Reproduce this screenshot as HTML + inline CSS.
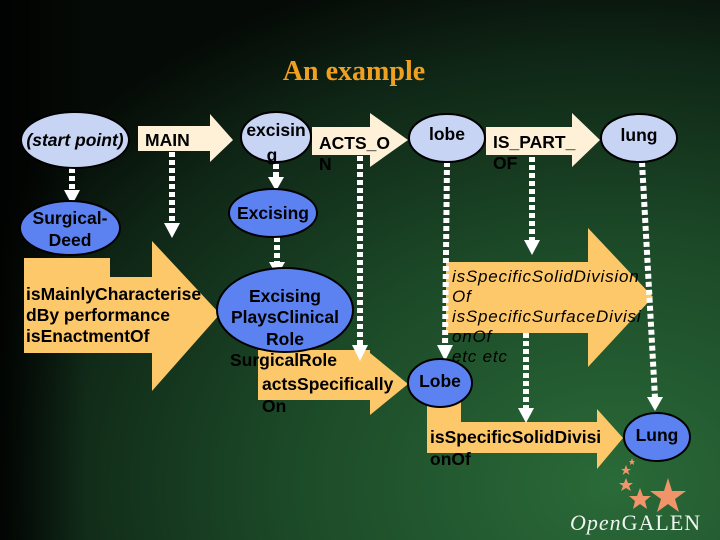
<!DOCTYPE html>
<html><head><meta charset="utf-8"><style>
html,body{margin:0;padding:0;width:720px;height:540px;overflow:hidden;background:#0a1a0e}
svg{display:block}
text{font-family:"Liberation Sans",sans-serif;font-weight:bold;fill:#000}
</style></head><body>
<svg width="720" height="540" viewBox="0 0 720 540" xmlns="http://www.w3.org/2000/svg">
<defs>
<radialGradient id="bg" cx="0.85" cy="0.9" r="1.0">
<stop offset="0" stop-color="#2a6a38"/>
<stop offset="0.45" stop-color="#1c4a28"/>
<stop offset="0.8" stop-color="#0f2616"/>
<stop offset="1" stop-color="#050a06"/>
</radialGradient>
<linearGradient id="lg" x1="0" x2="1" y1="0" y2="0">
<stop offset="0" stop-color="#000" stop-opacity="0.85"/>
<stop offset="0.12" stop-color="#000" stop-opacity="0"/>
</linearGradient>
</defs>
<rect width="720" height="540" fill="url(#bg)"/>
<rect width="720" height="540" fill="url(#lg)"/>

<text x="354" y="80" text-anchor="middle" style="font-family:'Liberation Serif',serif;font-size:28px;fill:#f0a020">An example</text>

<g fill="#fff0d8">
<polygon points="138,126 210,126 210,114 233,140 210,162 210,151 138,151"/>
<polygon points="312,127 370,127 370,113 408,140 370,167 370,155 312,155"/>
<polygon points="486,127 572,127 572,113 600,140 572,167 572,155 486,155"/>
</g>

<g fill="#fcc86a">
<polygon points="24,258 110,258 110,277 152,277 152,241 220,314 152,391 152,353 24,353"/>
<polygon points="258,350 370,350 370,353 408,384 370,415 370,400 258,400"/>
<polygon points="446,262 588,262 588,228 653,297 588,367 588,333 446,333"/>
<polygon points="427,400 461,400 461,422 597,422 597,409 623,438 597,469 597,453 427,453"/>
</g>

<g stroke="#fff" stroke-width="6" stroke-dasharray="5,3" fill="none">
<line x1="72" y1="168" x2="72" y2="191"/>
<line x1="172" y1="152" x2="172" y2="224"/>
<line x1="276" y1="164" x2="276" y2="178"/>
<line x1="277" y1="237" x2="277" y2="262"/>
<line x1="360" y1="156" x2="360" y2="346"/>
<line x1="447" y1="162" x2="445" y2="346"/>
<line x1="532" y1="157" x2="532" y2="241"/>
<line x1="642" y1="162" x2="655" y2="398"/>
<line x1="526" y1="333" x2="526" y2="409"/>
</g>
<g fill="#fff">
<polygon points="64,190 80,190 72,205"/>
<polygon points="164,223 180,223 172,238"/>
<polygon points="268,177 284,177 276,191"/>
<polygon points="269,262 285,262 277,276"/>
<polygon points="352,345 368,345 360,361"/>
<polygon points="437,345 453,345 445,361"/>
<polygon points="524,240 540,240 532,255"/>
<polygon points="647,397 663,397 655,411"/>
<polygon points="518,408 534,408 526,423"/>
</g>

<g fill="#c8d4f4" stroke="#000" stroke-width="2">
<ellipse cx="75" cy="140" rx="54" ry="28"/>
<ellipse cx="276" cy="137" rx="35" ry="25"/>
<ellipse cx="447" cy="138" rx="38" ry="24"/>
<ellipse cx="639" cy="138" rx="38" ry="24"/>
</g>
<g fill="#5b82f0" stroke="#000" stroke-width="2">
<ellipse cx="70" cy="228" rx="50" ry="27"/>
<ellipse cx="273" cy="213" rx="44" ry="24"/>
<ellipse cx="285" cy="310" rx="68" ry="42"/>
<ellipse cx="440" cy="383" rx="32" ry="24"/>
<ellipse cx="657" cy="437" rx="33" ry="24"/>
</g>

<g font-size="17.5">
<text x="75" y="146" text-anchor="middle" font-style="italic">(start point)</text>
<text x="145" y="146">MAIN</text>
<text x="276" y="136" text-anchor="middle">excisin</text>
<text x="272" y="161" text-anchor="middle">g</text>
<text x="319" y="149">ACTS_O</text>
<text x="319" y="170">N</text>
<text x="447" y="140" text-anchor="middle">lobe</text>
<text x="493" y="148">IS_PART_</text>
<text x="493" y="169">OF</text>
<text x="639" y="141" text-anchor="middle">lung</text>
<text x="70" y="224" text-anchor="middle">Surgical-</text>
<text x="70" y="246" text-anchor="middle">Deed</text>
<text x="273" y="219" text-anchor="middle">Excising</text>
<text x="26" y="300">isMainlyCharacterise</text>
<text x="26" y="321">dBy performance</text>
<text x="26" y="342">isEnactmentOf</text>
<text x="285" y="302" text-anchor="middle">Excising</text>
<text x="285" y="323" text-anchor="middle">PlaysClinical</text>
<text x="285" y="345" text-anchor="middle">Role</text>
<text x="230" y="366">SurgicalRole</text>
<text x="262" y="390">actsSpecifically</text>
<text x="262" y="412">On</text>
<text x="440" y="387" text-anchor="middle">Lobe</text>
<text x="430" y="443">isSpecificSolidDivisi</text>
<text x="430" y="465">onOf</text>
<text x="657" y="441" text-anchor="middle">Lung</text>
</g>
<g font-size="17" font-style="italic">
<text x="452" y="282" style="font-weight:normal" letter-spacing="0.8">isSpecificSolidDivision</text>
<text x="452" y="302" style="font-weight:normal" letter-spacing="0.8">Of</text>
<text x="452" y="322" style="font-weight:normal" letter-spacing="0.8">isSpecificSurfaceDivisi</text>
<text x="452" y="342" style="font-weight:normal" letter-spacing="0.8">onOf</text>
<text x="452" y="362" style="font-weight:normal" letter-spacing="0.8">etc etc</text>
</g>

<g fill="#f0956a">
<polygon points="668,478 672,491 686,491 675,499 679,512 668,504 657,512 661,499 650,491 664,491"/>
<polygon points="640,488 643,496 651,496 645,501 647,509 640,504 633,509 635,501 629,496 637,496"/>
<polygon points="626,478 628,483 633,483 629,486 631,491 626,488 621,491 623,486 619,483 624,483"/>
<polygon points="626,465 627.5,469 631,469 628,471 629.5,475 626,472.5 622.5,475 624,471 621,469 624.5,469"/>
<polygon points="632,458 633,461 635,461 633.5,462.5 634,465 632,463.5 630,465 630.5,462.5 629,461 631,461"/>
</g>
<text x="570" y="530" style="font-family:'Liberation Serif',serif;font-weight:normal;font-size:22px;fill:#eef4ee;letter-spacing:1px"><tspan font-style="italic">Open</tspan>GALEN</text>
</svg>
</body></html>
